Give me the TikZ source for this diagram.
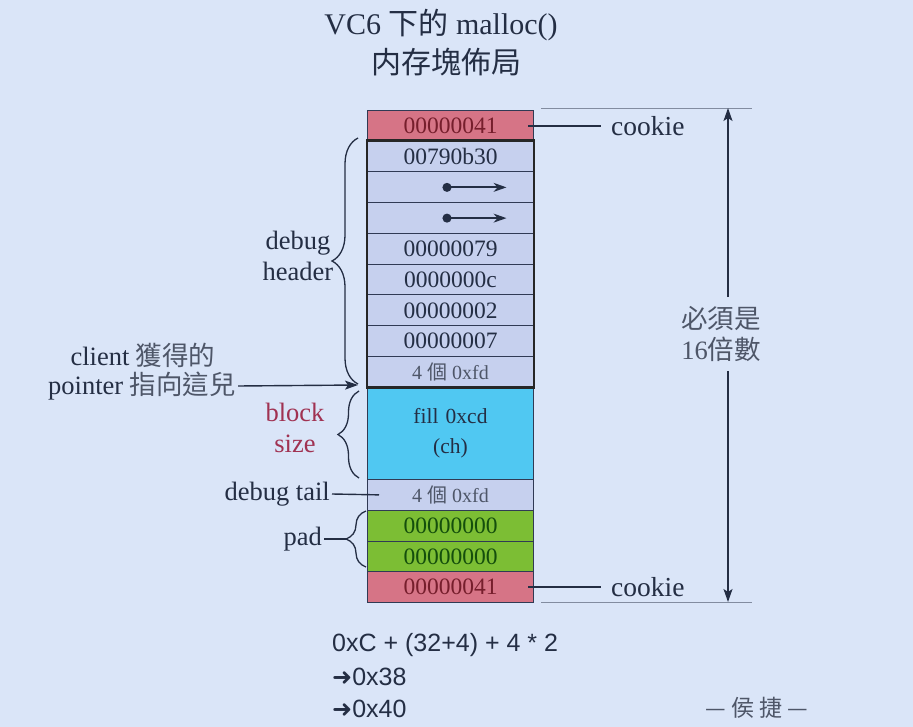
\documentclass[tikz,border=0pt]{standalone}
\usepackage{fontspec}
\setmainfont{Liberation Serif}
\newfontfamily\cjk{Noto Sans CJK TC}
\newfontfamily\sansf{Liberation Sans}
\newfontfamily\symf{DejaVu Sans}
\usetikzlibrary{arrows.meta,decorations.pathreplacing}

\definecolor{bgblue}{RGB}{218,229,248}
\definecolor{cellfill}{RGB}{198,208,238}
\definecolor{cellline}{RGB}{48,58,84}
\definecolor{cookiefill}{RGB}{214,116,134}
\definecolor{cookietext}{RGB}{118,30,44}
\definecolor{fillcyan}{RGB}{80,200,242}
\definecolor{padgreen}{RGB}{124,190,52}
\definecolor{padtext}{RGB}{20,78,12}
\definecolor{inktext}{RGB}{36,46,68}
\definecolor{softtext}{RGB}{78,86,104}
\definecolor{blockred}{RGB}{160,50,82}
\definecolor{guidegray}{RGB}{130,140,160}

\tikzset{
  cell/.style={draw=cellline, line width=1pt, fill=cellfill, text=inktext, anchor=north west,
    minimum width=166pt, minimum height=30.75pt, inner sep=0pt, font={\fontsize{23.5}{27}\selectfont}},
  cookiecell/.style={cell, fill=cookiefill, text=cookietext},
  padcell/.style={cell, fill=padgreen, text=padtext},
  fdcell/.style={cell, text=softtext, font={\fontsize{20}{24}\selectfont}},
  lab/.style={text=inktext, font={\fontsize{26.5}{31}\selectfont}, align=center, inner sep=2pt},
  title/.style={text=inktext, font={\fontsize{30}{34}\selectfont}, inner sep=0pt},
  calcline/.style={text=inktext, anchor=west, inner sep=0pt, font={\sansf\fontsize{25}{28}\selectfont}},
  sidebrace/.style={decorate, decoration={brace, amplitude=#1}, draw=inktext, line width=1.3pt},
  guide/.style={draw=guidegray, line width=0.9pt},
  tick/.style={draw=inktext, line width=1.4pt},
  ptrarrow/.style={draw=inktext, line width=1.8pt, {Circle[length=9pt]}-{Stealth[length=13pt,width=9pt]}},
  dimarrow/.style={draw=inktext, line width=1.4pt, -{Stealth[length=13pt,width=9pt,inset=3pt]}}
}

\begin{document}
\begin{tikzpicture}[x=1pt, y=-1pt]
	\fill[bgblue] (0,0) rectangle (913,727);
	\useasboundingbox (0,0) rectangle (913,727);
	
	% title
	\node[title] (ttl1) at (441,25) {VC6 {\cjk 下的} malloc()};
	\node[title] (ttl2) at (446,62) {\cjk 内存塊佈局};
	
	% the block, top to bottom
	\node[cookiecell] (ck1) at (367,110) {00000041};
	\node[cell] (r2) at (367,140.75) {00790b30};
	\node[cell] (r3) at (367,171.5) {};
	\node[cell] (r4) at (367,202.25) {};
	\node[cell] (r5) at (367,233) {00000079};
	\node[cell] (r6) at (367,263.75) {0000000c};
	\node[cell] (r7) at (367,294.5) {00000002};
	\node[cell] (r8) at (367,325.25) {00000007};
	\node[fdcell] (r9) at (367,356) {4 {\cjk 個} 0xfd};
	\node[cell, fill=fillcyan, minimum height=92.25pt, align=center, font={\fontsize{21.5}{30}\selectfont}] (body) at (367,386.75) {fill\,\,0xcd\\(ch)};
	\node[fdcell] (tail) at (367,479) {4 {\cjk 個} 0xfd};
	\node[padcell] (pad1) at (367,509.75) {00000000};
	\node[padcell] (pad2) at (367,540.5) {00000000};
	\node[cookiecell] (ck2) at (367,571.25) {00000041};
	
	\draw[line width=2.6pt, draw=black!85] (r2.north west) rectangle (r9.south east);
	
	\draw[ptrarrow] ([xshift=-8pt]r3.center) -- ([xshift=56pt]r3.center);
	\draw[ptrarrow] ([xshift=-8pt]r4.center) -- ([xshift=56pt]r4.center);
	
	% left side
	\draw[sidebrace=26pt] (358,384) -- (358,138);
	\node[lab] (hdr) at (298,256) {debug\\header};
	
	\node[lab] (client) at (143,355) {client {\cjk\color{softtext} 獲得的}};
	\node[lab] (ptr) at (142,386) {pointer {\cjk\color{softtext} 指向這兒}};
	\coordinate (ptrtip) at (358,385);
	\draw[dimarrow] (ptr.east) -- (ptrtip);
	
	\draw[sidebrace=21pt] (359,478) -- (359,391);
	\node[lab, text=blockred] (bsize) at (295,428) {block\\size};
	
	\node[lab, anchor=east] (dtail) at (332,494) {debug tail};
	\draw[tick] (dtail.east) -- ([xshift=12pt]tail.west);
	
	\draw[sidebrace=20pt] (366,567) -- (366,511);
	\coordinate (padtip) at (346,539);
	\node[lab, anchor=east] (padlab) at (324,539) {pad};
	\draw[tick] (padlab.east) -- (padtip);
	
	% right side
	\node[lab, anchor=west, font={\fontsize{27.5}{31}\selectfont}, inner sep=10pt] (ck1lab) at ([xshift=67pt]ck1.east) {cookie};
	\draw[tick] ([xshift=-6pt]ck1.east) -- (ck1lab.west);
	\node[lab, anchor=west, font={\fontsize{27.5}{31}\selectfont}, inner sep=10pt] (ck2lab) at ([xshift=67pt]ck2.east) {cookie};
	\draw[tick] ([xshift=-6pt]ck2.east) -- (ck2lab.west);
	
	\draw[guide] (541,108) -- (752,108);
	\draw[guide] (541,602) -- (752,602);
	\coordinate (dimtop) at (728,108);
	\coordinate (dimbot) at (728,602);
	\node[lab, text=softtext, inner sep=9pt] (must) at (721,334) {{\cjk 必須是}\\16{\cjk 倍數}};
	\draw[dimarrow] (must.north -| dimtop) -- (dimtop);
	\draw[dimarrow] (must.south -| dimbot) -- (dimbot);
	
	% size sum
	\node[calcline] (sum) at (332,645) {0xC + (32+4) + 4 * 2};
	\node[calcline] (step1) at (332,677) {{\symf\fontsize{24}{28}\selectfont ➜}0x38};
	\node[calcline] (step2) at (332,709) {{\symf\fontsize{24}{28}\selectfont ➜}0x40};
	
	\node[text=softtext, font={\cjk\fontsize{23}{26}\selectfont}] (sign) at (757,708) {— 侯 捷 —};
\end{tikzpicture}
\end{document}
